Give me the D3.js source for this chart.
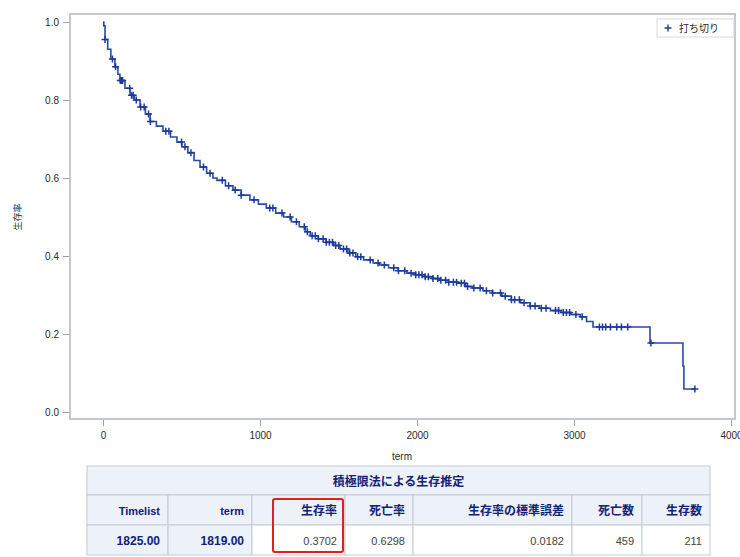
<!DOCTYPE html>
<html lang="ja">
<head>
    <meta charset="UTF-8">
    <title>生存率</title>
    <script src="https://cdn.jsdelivr.net/npm/d3@7"></script>
    <style>
        body { margin: 0; background: #fff; }
        text { font-family: "Liberation Sans", "Noto Sans CJK JP", sans-serif; }
        .tick text { fill: #2b2b2b; font-size: 10px; }
        .tick line { stroke: #9aa0a8; }
    </style>
</head>
<body>
<svg id="chart" width="740" height="557"></svg>
<script>
    // KM step points: time, survival
    var stepTimes = [0, 5, 13, 30, 50, 76, 95, 108, 140, 172, 200, 236, 270, 300, 340, 382, 430, 471, 503, 540,
        580, 618, 660, 700, 726, 780, 828, 880, 936, 990, 1040, 1100, 1150, 1200, 1250, 1290, 1320, 1370, 1420, 1470,
        1510, 1560, 1610, 1660, 1720, 1760, 1819, 1880, 1936, 1990, 2050, 2100, 2146, 2200, 2260, 2310, 2357, 2420,
        2480, 2540, 2600, 2660, 2720, 2780, 2850, 2920, 2980, 3040, 3080, 3121, 3484, 3694, 3700, 3770];
    var survival = [1.000, 0.990, 0.955, 0.930, 0.905, 0.885, 0.866, 0.850, 0.830, 0.812, 0.800, 0.782, 0.764, 0.745,
        0.733, 0.720, 0.705, 0.692, 0.680, 0.665, 0.645, 0.628, 0.612, 0.600, 0.594, 0.580, 0.569, 0.556, 0.544, 0.533,
        0.523, 0.510, 0.500, 0.488, 0.475, 0.462, 0.452, 0.444, 0.435, 0.427, 0.418, 0.408, 0.398, 0.390, 0.382, 0.377,
        0.370, 0.362, 0.356, 0.352, 0.347, 0.342, 0.338, 0.333, 0.330, 0.322, 0.318, 0.311, 0.305, 0.297, 0.288, 0.280,
        0.272, 0.266, 0.260, 0.255, 0.250, 0.244, 0.232, 0.218, 0.177, 0.118, 0.059, 0.059];

    // censored times
    var censorTimes = [13, 60, 80, 110, 118, 125, 170, 182, 192, 212, 240, 262, 290, 302, 400, 420, 500, 522, 560, 640,
        682, 760, 800, 842, 880, 962, 1062, 1082, 1140, 1192, 1232, 1282, 1302, 1332, 1352, 1372, 1402, 1422, 1442,
        1462, 1482, 1502, 1532, 1552, 1572, 1592, 1622, 1642, 1702, 1752, 1792, 1852, 1882, 1922, 1962, 1992, 2012,
        2032, 2052, 2072, 2102, 2132, 2152, 2182, 2202, 2232, 2252, 2282, 2302, 2322, 2362, 2402, 2442, 2482, 2532,
        2562, 2602, 2622, 2652, 2682, 2722, 2752, 2792, 2822, 2882, 2902, 2932, 2952, 2972, 3012, 3052, 3162, 3182,
        3202, 3232, 3272, 3302, 3342, 3490, 3770];

    var xTicks = [0, 1000, 2000, 3000, 4000];
    var yTicks = [0, 0.2, 0.4, 0.6, 0.8, 1.0];

    // table
    var tableTitle = "積極限法による生存推定";
    var tableHeaders = ["Timelist", "term", "生存率", "死亡率", "生存率の標準誤差", "死亡数", "生存数"];
    var tableValues = ["1825.00", "1819.00", "0.3702", "0.6298", "0.0182", "459", "211"];
    var colEdges = [87, 168, 252, 345, 413, 572, 642, 710];

    var svg = d3.select("#chart");
    // note: "top" is window.top, so use other names
    var plotL = 70, plotR = 735, plotT = 14, plotB = 419;
    var lineColor = "#2a4aa8";

    var x = d3.scaleLinear().domain([0, 4000]).range([103, 731]);
    var y = d3.scaleLinear().domain([0, 1]).range([412, 22]);

    // frame
    svg.append("rect")
        .attr("x", plotL).attr("y", plotT)
        .attr("width", plotR - plotL).attr("height", plotB - plotT)
        .attr("fill", "none").attr("stroke", "#c3c8ce").attr("stroke-width", 2);

    var yAxis = d3.axisLeft(y).tickValues(yTicks).tickFormat(d3.format(".1f")).tickSize(6).tickPadding(4);
    svg.append("g").attr("transform", "translate(" + (plotL - 1) + ",0)").call(yAxis)
        .call(function(g) { g.select(".domain").remove(); });

    var xAxis = d3.axisBottom(x).tickValues(xTicks).tickFormat(d3.format("d")).tickSize(6).tickPadding(6);
    svg.append("g").attr("transform", "translate(0," + (plotB + 1) + ")").call(xAxis)
        .call(function(g) { g.select(".domain").remove(); });

    svg.append("text")
        .attr("x", 402).attr("y", 460)
        .attr("text-anchor", "middle")
        .attr("font-size", 10).attr("fill", "#2b2b2b")
        .text("term");

    svg.append("text")
        .attr("transform", "translate(21,217) rotate(-90)")
        .attr("text-anchor", "middle")
        .attr("font-size", 9).attr("fill", "#2b2b2b")
        .text("生存率");

    // survival curve
    var points = stepTimes.map(function(t, i) { return [t, survival[i]]; });
    var line = d3.line()
        .x(function(d) { return x(d[0]); })
        .y(function(d) { return y(d[1]); })
        .curve(d3.curveStepAfter);

    svg.append("path")
        .datum(points)
        .attr("d", line)
        .attr("fill", "none")
        .attr("stroke", lineColor)
        .attr("stroke-width", 1.6);

    function survAt(t) {
        var s = survival[0];
        for (var i = 0; i < stepTimes.length; i++) {
            if (stepTimes[i] <= t) s = survival[i];
        }
        return s;
    }

    var plus = "M-3.5,0H3.5M0,-3.5V3.5";
    svg.selectAll("path.censor")
        .data(censorTimes)
        .enter()
        .append("path")
        .attr("class", "censor")
        .attr("d", plus)
        .attr("transform", function(d) {
            return "translate(" + x(d) + "," + y(survAt(d)) + ")";
        })
        .attr("stroke", "#1c3a9a")
        .attr("stroke-width", 1.5)
        .attr("fill", "none");

    // legend
    var lg = svg.append("g").attr("transform", "translate(657,19)");
    lg.append("rect").attr("width", 77).attr("height", 18)
        .attr("fill", "#fff").attr("stroke", "#d6d9de");
    lg.append("path").attr("d", plus).attr("transform", "translate(11,9)")
        .attr("stroke", "#1c3a9a").attr("stroke-width", 1.4);
    lg.append("text").attr("x", 22).attr("y", 13)
        .attr("font-size", 10).attr("fill", "#2b2b2b").text("打ち切り");

    // table
    var tb = svg.append("g");
    var tTop = 466, r1 = 495, r2 = 525, tBottom = 555;
    var headBg = "#edf1f8", headFg = "#112277", border = "#c4cad3";

    tb.append("rect").attr("x", colEdges[0]).attr("y", tTop)
        .attr("width", colEdges[7] - colEdges[0]).attr("height", r1 - tTop)
        .attr("fill", headBg).attr("stroke", border);
    tb.append("text").attr("x", (colEdges[0] + colEdges[7]) / 2).attr("y", 486)
        .attr("text-anchor", "middle").attr("font-size", 12).attr("font-weight", "bold")
        .attr("fill", headFg).text(tableTitle);

    tb.selectAll("rect.hcell")
        .data(tableHeaders)
        .enter()
        .append("rect")
        .attr("class", "hcell")
        .attr("x", function(d, i) { return colEdges[i]; })
        .attr("y", r1)
        .attr("width", function(d, i) { return colEdges[i + 1] - colEdges[i]; })
        .attr("height", r2 - r1)
        .attr("fill", headBg).attr("stroke", border);

    tb.selectAll("text.htext")
        .data(tableHeaders)
        .enter()
        .append("text")
        .attr("class", "htext")
        .attr("x", function(d, i) { return colEdges[i + 1] - 8; })
        .attr("y", 515)
        .attr("text-anchor", "end")
        .attr("font-size", function(d, i) { return i < 2 ? 11 : 12; })
        .attr("font-weight", "bold")
        .attr("fill", headFg)
        .text(function(d) { return d; });

    tb.selectAll("rect.dcell")
        .data(tableValues)
        .enter()
        .append("rect")
        .attr("class", "dcell")
        .attr("x", function(d, i) { return colEdges[i]; })
        .attr("y", r2)
        .attr("width", function(d, i) { return colEdges[i + 1] - colEdges[i]; })
        .attr("height", tBottom - r2)
        .attr("fill", function(d, i) { return i < 2 ? headBg : "#fff"; })
        .attr("stroke", border);

    tb.selectAll("text.dtext")
        .data(tableValues)
        .enter()
        .append("text")
        .attr("class", "dtext")
        .attr("x", function(d, i) { return colEdges[i + 1] - 8; })
        .attr("y", 545)
        .attr("text-anchor", "end")
        .attr("font-size", function(d, i) { return i < 2 ? 12 : 11; })
        .attr("font-weight", function(d, i) { return i < 2 ? "bold" : "normal"; })
        .attr("fill", function(d, i) { return i < 2 ? headFg : "#444"; })
        .text(function(d) { return d; });

    // highlight box
    tb.append("rect")
        .attr("x", 273).attr("y", 499)
        .attr("width", 70).attr("height", 53)
        .attr("rx", 2)
        .attr("fill", "none").attr("stroke", "#e0201c").attr("stroke-width", 2);
</script>
</body>
</html>
